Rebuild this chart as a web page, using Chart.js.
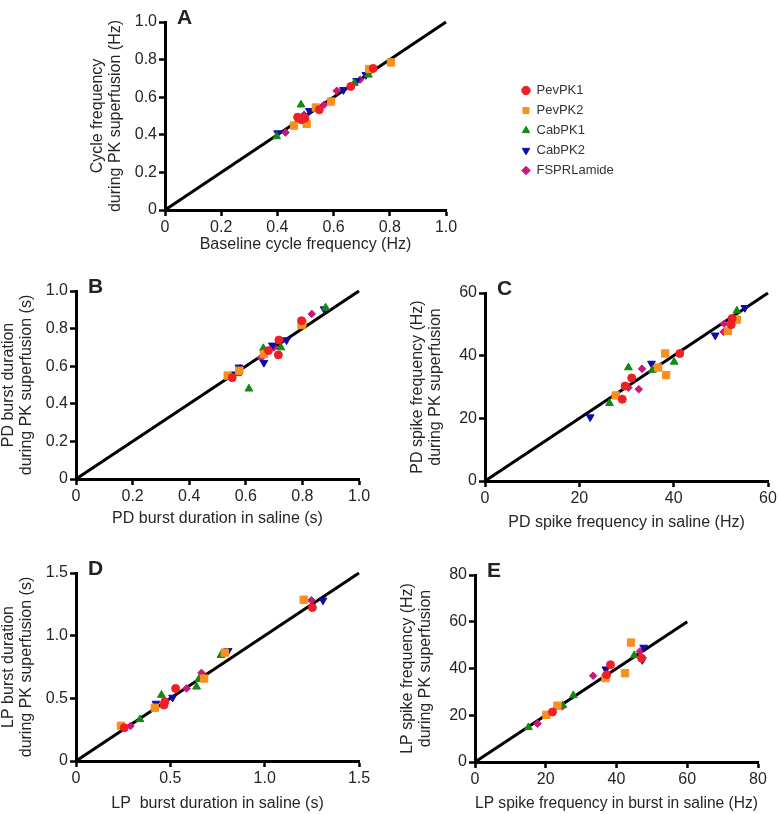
<!DOCTYPE html>
<html>
<head>
<meta charset="utf-8">
<script src="https://cdn.jsdelivr.net/npm/chart.js@4.4.0/dist/chart.umd.min.js"></script>
<style>
  html, body { margin: 0; padding: 0; background: #fff; overflow: hidden; }
  body { width: 779px; height: 814px; position: relative; }
  canvas { position: absolute; }
</style>
</head>
<body>
<canvas id="chartA"></canvas>
<canvas id="chartB"></canvas>
<canvas id="chartC"></canvas>
<canvas id="chartD"></canvas>
<canvas id="chartE"></canvas>
<canvas id="legendBox"></canvas>
<script>
// series shared by all panels
const seriesNames = ['PevPK1', 'PevPK2', 'CabPK1', 'CabPK2', 'FSPRLamide'];

// A: cycle frequency (Hz), [baseline, during PK]
const aPev1 = [[0.472, 0.494], [0.486, 0.48], [0.498, 0.488], [0.549, 0.533], [0.661, 0.657], [0.741, 0.753]];
const aPev2 = [[0.459, 0.449], [0.504, 0.458], [0.537, 0.545], [0.591, 0.577], [0.727, 0.75], [0.804, 0.785]];
const aCab1 = [[0.397, 0.391], [0.484, 0.56], [0.674, 0.675], [0.724, 0.719]];
const aCab2 = [[0.401, 0.409], [0.514, 0.528], [0.635, 0.639], [0.682, 0.687], [0.715, 0.719]];
const aFspr = [[0.429, 0.412], [0.495, 0.506], [0.566, 0.56], [0.611, 0.634], [0.694, 0.693]];

// B: PD burst duration (s)
const bPev1 = [[0.552, 0.539], [0.68, 0.683], [0.717, 0.739], [0.715, 0.66], [0.797, 0.842]];
const bPev2 = [[0.536, 0.55], [0.577, 0.576], [0.664, 0.665], [0.797, 0.819], [0.80, 0.83]];
const bCab1 = [[0.571, 0.562], [0.611, 0.48], [0.662, 0.695], [0.724, 0.699], [0.882, 0.911]];
const bCab2 = [[0.556, 0.557], [0.576, 0.594], [0.664, 0.619], [0.694, 0.711], [0.744, 0.739], [0.877, 0.904]];
const bFspr = [[0.58, 0.59], [0.654, 0.645], [0.70, 0.70], [0.833, 0.878]];

// C: PD spike frequency (Hz)
const cPev1 = [[29.1, 26.1], [29.7, 30.3], [31.1, 32.9], [41.3, 40.7], [52.2, 49.9], [52.4, 51.9]];
const cPev2 = [[27.7, 27.3], [36.7, 36.2], [38.2, 40.7], [38.4, 33.8], [51.5, 47.9], [53.4, 51.5]];
const cCab1 = [[26.4, 24.8], [30.4, 36.2], [35.5, 35.4], [40.1, 38.0], [53.4, 54.3]];
const cCab2 = [[22.3, 20.4], [35.3, 37.5], [48.8, 46.5], [55.1, 55.3]];
const cFspr = [[30.4, 29.8], [32.6, 29.3], [33.3, 35.8], [50.6, 47.6], [50.7, 50.2]];

// D: LP burst duration (s)
const dPev1 = [[0.256, 0.265], [0.466, 0.446], [0.471, 0.473], [0.528, 0.579], [1.253, 1.224]];
const dPev2 = [[0.238, 0.281], [0.418, 0.425], [0.679, 0.658], [0.789, 0.865], [1.207, 1.287]];
const dCab1 = [[0.339, 0.332], [0.453, 0.526], [0.639, 0.592], [0.651, 0.653], [0.768, 0.844]];
const dCab2 = [[0.424, 0.459], [0.512, 0.507], [0.806, 0.879], [1.309, 1.282]];
const dFspr = [[0.289, 0.279], [0.586, 0.579], [0.665, 0.703], [1.248, 1.282]];

// E: LP spike frequency in burst (Hz)
const ePev1 = [[21.9, 21.4], [37.2, 37.3], [38.3, 41.6], [47.1, 44.4]];
const ePev2 = [[20.2, 20.2], [23.3, 24.1], [36.9, 35.9], [42.4, 38.0], [44.1, 51.1]];
const eCab1 = [[15.1, 14.8], [24.8, 24.2], [27.8, 28.5], [45.0, 45.6]];
const eCab2 = [[37.0, 39.7], [47.7, 49.0], [47.3, 43.7]];
const eFspr = [[17.7, 16.4], [24.7, 23.8], [33.4, 36.9], [46.6, 47.3]];

// unity lines
const unityA = [[0, 0], [1, 1]];
const unityB = [[0, 0], [1, 1]];
const unityC = [[0, 0], [60, 60]];
const unityD = [[0, 0], [1.5, 1.5]];
const unityE = [[0, 0], [60, 60]];

// ticks
const ticks01 = [0, 0.2, 0.4, 0.6, 0.8, 1.0];
const labels01 = ['0', '0.2', '0.4', '0.6', '0.8', '1.0'];
const ticks60 = [0, 20, 40, 60];
const labels60 = ['0', '20', '40', '60'];
const ticks15 = [0, 0.5, 1.0, 1.5];
const labels15 = ['0', '0.5', '1.0', '1.5'];
const ticks80 = [0, 20, 40, 60, 80];
const labels80 = ['0', '20', '40', '60', '80'];

const seriesColors = ['#ee1f25', '#f7901e', '#128a12', '#0c0ca8', '#c8187e'];
const markerStyles = ['circle', 'rect', 'triangle', 'triangle', 'rectRot'];
const markerRotation = [0, 0, 0, 180, 0];
const markerRadius = [4, 5.2, 4.5, 4.5, 3.8];

const fontFamily = '"Liberation Sans", Arial, Helvetica, sans-serif';
const textColor = '#262626';

// draws the bold panel letter inside the top-left corner
const panelLetter = {
    id: 'panelLetter',
    afterDraw(chart, args, opts) {
        if (!opts.text) return;
        const ctx = chart.ctx;
        ctx.save();
        ctx.font = 'bold 21px ' + fontFamily;
        ctx.fillStyle = '#222';
        ctx.textBaseline = 'alphabetic';
        ctx.fillText(opts.text, chart.chartArea.left + 12, chart.chartArea.top + 2);
        ctx.restore();
    }
};
Chart.register(panelLetter);

function axis(tickVals, tickLabels, title, isX, size) {
    return {
        type: 'linear',
        min: tickVals[0],
        max: tickVals[tickVals.length - 1],
        afterBuildTicks: s => { s.ticks = tickVals.map(v => ({ value: v })); },
        afterFit: s => {
            if (isX) s.height = size; else s.width = size;
            s.paddingLeft = 0; s.paddingRight = 0; s.paddingTop = 0; s.paddingBottom = 0;
        },
        border: { display: true, color: '#000', width: 3 },
        grid: { display: true, drawOnChartArea: false, drawTicks: true, tickLength: 6, tickWidth: 2.5, tickColor: '#000' },
        ticks: {
            color: textColor, padding: 2, maxRotation: 0, autoSkip: false,
            font: { size: 16, family: fontFamily },
            callback: (v, i) => tickLabels[i]
        },
        title: {
            display: true, text: title, color: textColor, padding: 0,
            font: { size: 16, family: fontFamily, lineHeight: 1.1 }
        }
    };
}

function makePanel(id, box, p) {
    const canvas = document.getElementById(id);
    const padTop = 20, yWidth = 76;
    canvas.width = yWidth + (box.R - box.L) + box.padRight;
    canvas.height = padTop + (box.B - box.T) + box.xh;
    canvas.style.left = (box.L - yWidth) + 'px';
    canvas.style.top = (box.T - padTop) + 'px';

    const datasets = p.series.map((pts, i) => ({
        label: seriesNames[i],
        data: pts.map(d => ({ x: d[0], y: d[1] })),
        pointStyle: markerStyles[i],
        pointRotation: markerRotation[i],
        pointRadius: markerRadius[i],
        backgroundColor: seriesColors[i],
        borderColor: seriesColors[i],
        borderWidth: 1,
        clip: false
    }));
    datasets.push({
        label: 'unity',
        data: p.unity.map(d => ({ x: d[0], y: d[1] })),
        showLine: true,
        borderColor: '#000',
        borderWidth: 3,
        pointRadius: 0,
        clip: false
    });

    new Chart(canvas, {
        type: 'scatter',
        data: { datasets: datasets },
        options: {
            responsive: false,
            animation: false,
            layout: { padding: { top: padTop, right: box.padRight, left: 0, bottom: 0 } },
            plugins: {
                legend: { display: false },
                tooltip: { enabled: false },
                panelLetter: { text: p.letter }
            },
            scales: {
                x: axis(p.xTicks, p.xLabels, p.xTitle, true, box.xh),
                y: axis(p.yTicks, p.yLabels, p.yTitle, false, yWidth)
            }
        }
    });
}

makePanel('chartA', { L: 165, T: 22, R: 446, B: 210, xh: 43, padRight: 16 }, {
    letter: 'A', series: [aPev1, aPev2, aCab1, aCab2, aFspr], unity: unityA,
    xTicks: ticks01, xLabels: labels01, yTicks: ticks01, yLabels: labels01,
    xTitle: 'Baseline cycle frequency (Hz)',
    yTitle: ['Cycle frequency', 'during PK superfusion (Hz)']
});
makePanel('chartB', { L: 76, T: 291, R: 359, B: 479, xh: 48, padRight: 16 }, {
    letter: 'B', series: [bPev1, bPev2, bCab1, bCab2, bFspr], unity: unityB,
    xTicks: ticks01, xLabels: labels01, yTicks: ticks01, yLabels: labels01,
    xTitle: 'PD burst duration in saline (s)',
    yTitle: ['PD burst duration', 'during PK superfusion (s)']
});
makePanel('chartC', { L: 485, T: 293, R: 768, B: 481, xh: 50, padRight: 11 }, {
    letter: 'C', series: [cPev1, cPev2, cCab1, cCab2, cFspr], unity: unityC,
    xTicks: ticks60, xLabels: labels60, yTicks: ticks60, yLabels: labels60,
    xTitle: 'PD spike frequency in saline (Hz)',
    yTitle: ['PD spike frequency (Hz)', 'during PK superfusion']
});
makePanel('chartD', { L: 76, T: 573, R: 359, B: 761, xh: 51, padRight: 16 }, {
    letter: 'D', series: [dPev1, dPev2, dCab1, dCab2, dFspr], unity: unityD,
    xTicks: ticks15, xLabels: labels15, yTicks: ticks15, yLabels: labels15,
    xTitle: 'LP  burst duration in saline (s)',
    yTitle: ['LP burst duration', 'during PK superfusion (s)']
});
makePanel('chartE', { L: 475, T: 575, R: 758, B: 762, xh: 50, padRight: 16 }, {
    letter: 'E', series: [ePev1, ePev2, eCab1, eCab2, eFspr], unity: unityE,
    xTicks: ticks80, xLabels: labels80, yTicks: ticks80, yLabels: labels80,
    xTitle: 'LP spike frequency in burst in saline (Hz)',
    yTitle: ['LP spike frequency (Hz)', 'during PK superfusion']
});

// legend, drawn by Chart.js from the five series
const legendCanvas = document.getElementById('legendBox');
legendCanvas.width = 250;
legendCanvas.height = 120;
legendCanvas.style.left = '515px';
legendCanvas.style.top = '77px';
new Chart(legendCanvas, {
    type: 'scatter',
    data: {
        datasets: seriesNames.map((name, i) => ({
            label: name,
            data: [],
            pointStyle: markerStyles[i],
            pointRotation: markerRotation[i],
            backgroundColor: seriesColors[i],
            borderColor: seriesColors[i]
        }))
    },
    options: {
        responsive: false,
        animation: false,
        layout: { padding: 0 },
        scales: { x: { display: false }, y: { display: false } },
        plugins: {
            tooltip: { enabled: false },
            legend: {
                position: 'left',
                align: 'start',
                maxWidth: 200,
                labels: {
                    usePointStyle: true, boxWidth: 8, boxHeight: 6, padding: 7,
                    color: '#333', font: { size: 13, family: fontFamily }
                }
            }
        }
    }
});
</script>
</body>
</html>
